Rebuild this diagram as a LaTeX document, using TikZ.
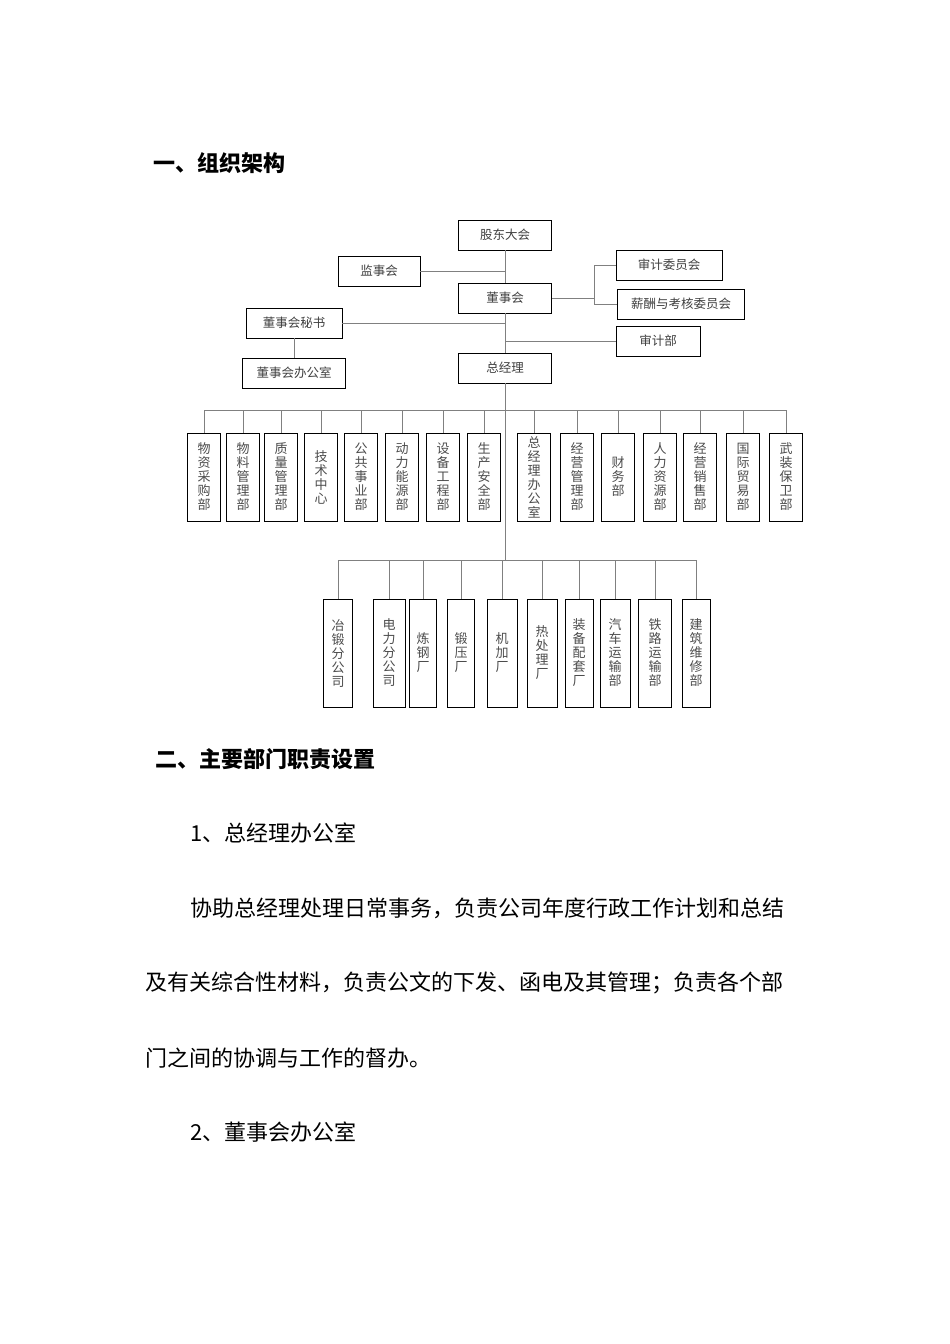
\documentclass[tikz,border=0pt]{standalone}
\usepackage{fontspec}
\newfontfamily\cjk{Noto Sans CJK SC}

\tikzstyle{box} = [draw, line width = 0.9pt, text = black!75, font = \cjk\fontsize{12.5}{14}\selectfont, minimum height = 30pt, inner sep = 0pt]
\tikzstyle{dept} = [draw, line width = 0.9pt, text = black!70, align = center, font = \cjk\fontsize{13}{14}\selectfont, minimum width = 33pt, minimum height = 88pt, inner sep = 0pt]
\tikzstyle{unit} = [dept, minimum width = 29pt, minimum height = 108pt]
\tikzstyle{link} = [black!50, line width = 0.8pt]
\tikzstyle{title} = [anchor = west, inner sep = 0pt, font = \cjk\bfseries\fontsize{22}{22}\selectfont]
\tikzstyle{body} = [anchor = west, inner sep = 0pt, font = \cjk\fontsize{22}{22}\selectfont]

\begin{document}
\begin{tikzpicture}[x = 1pt, y = -1pt]
		\useasboundingbox [fill = white] (0, 0) rectangle (950, 1344);

		\node [title] at (153, 163) (h1) {一、组织架构};

		\node [box, minimum width = 93pt] at (505, 235) (1) {股东大会};
		\node [box, minimum width = 82pt] at (379, 271) (2) {监事会};
		\node [box, minimum width = 93pt] at (505, 298) (3) {董事会};
		\node [box, minimum width = 106pt] at (669, 265) (4) {审计委员会};
		\node [box, minimum width = 127pt] at (681, 304) (5) {薪酬与考核委员会};
		\node [box, minimum width = 96pt] at (294, 323) (6) {董事会秘书};
		\node [box, minimum width = 84pt] at (658, 341) (7) {审计部};
		\node [box, minimum width = 103pt] at (294, 373) (8) {董事会办公室};
		\node [box, minimum width = 93pt] at (505, 368) (9) {总经理};

		\coordinate (c1) at (594, 298);
		\coordinate (m) at (505, 410);
		\coordinate (n) at (505, 560);

		\node [dept] at (204, 477) (11) {物\\资\\采\\购\\部};
		\node [dept] at (243, 477) (12) {物\\料\\管\\理\\部};
		\node [dept] at (281, 477) (13) {质\\量\\管\\理\\部};
		\node [dept] at (321, 477) (14) {技\\术\\中\\心};
		\node [dept] at (361, 477) (15) {公\\共\\事\\业\\部};
		\node [dept] at (402, 477) (16) {动\\力\\能\\源\\部};
		\node [dept] at (443, 477) (17) {设\\备\\工\\程\\部};
		\node [dept] at (484, 477) (18) {生\\产\\安\\全\\部};
		\node [dept] at (534, 477) (19) {总\\经\\理\\办\\公\\室};
		\node [dept] at (577, 477) (20) {经\\营\\管\\理\\部};
		\node [dept] at (618, 477) (21) {财\\务\\部};
		\node [dept] at (660, 477) (22) {人\\力\\资\\源\\部};
		\node [dept] at (700, 477) (23) {经\\营\\销\\售\\部};
		\node [dept] at (743, 477) (24) {国\\际\\贸\\易\\部};
		\node [dept] at (786, 477) (25) {武\\装\\保\\卫\\部};

		\node [unit] at (338, 653) (31) {冶\\锻\\分\\公\\司};
		\node [unit, minimum width = 32pt] at (389, 653) (32) {电\\力\\分\\公\\司};
		\node [unit, minimum width = 27pt] at (423, 653) (33) {炼\\钢\\厂};
		\node [unit, minimum width = 27pt] at (461, 653) (34) {锻\\压\\厂};
		\node [unit, minimum width = 30pt] at (502, 653) (35) {机\\加\\厂};
		\node [unit, minimum width = 30pt] at (542, 653) (36) {热\\处\\理\\厂};
		\node [unit, minimum width = 28pt] at (579, 653) (37) {装\\备\\配\\套\\厂};
		\node [unit, minimum width = 30pt] at (615, 653) (38) {汽\\车\\运\\输\\部};
		\node [unit, minimum width = 33pt] at (655, 653) (39) {铁\\路\\运\\输\\部};
		\node [unit, minimum width = 28pt] at (696, 653) (40) {建\\筑\\维\\修\\部};

		\draw [link] (1) -- (3);
		\draw [link] (3) -- (9);
		\draw [link] (9) -- (n);
		\draw [link] (2) -- (2 -| 1);
		\draw [link] (3) -- (c1);
		\draw [link] (4) -| (c1);
		\draw [link] (5) -| (c1);
		\draw [link] (6) -- (6 -| 1);
		\draw [link] (6) -- (8);
		\draw [link] (7) -- (7 -| 1);

		\draw [link] (11) |- (m);
		\draw [link] (12) |- (m);
		\draw [link] (13) |- (m);
		\draw [link] (14) |- (m);
		\draw [link] (15) |- (m);
		\draw [link] (16) |- (m);
		\draw [link] (17) |- (m);
		\draw [link] (18) |- (m);
		\draw [link] (19) |- (m);
		\draw [link] (20) |- (m);
		\draw [link] (21) |- (m);
		\draw [link] (22) |- (m);
		\draw [link] (23) |- (m);
		\draw [link] (24) |- (m);
		\draw [link] (25) |- (m);

		\draw [link] (31) |- (n);
		\draw [link] (32) |- (n);
		\draw [link] (33) |- (n);
		\draw [link] (34) |- (n);
		\draw [link] (35) |- (n);
		\draw [link] (36) |- (n);
		\draw [link] (37) |- (n);
		\draw [link] (38) |- (n);
		\draw [link] (39) |- (n);
		\draw [link] (40) |- (n);

		\node [title] at (155, 759) (h2) {二、主要部门职责设置};
		\node [body] at (190, 833) (p1) {1、总经理办公室};
		\node [body] at (190, 908) (p2) {协助总经理处理日常事务，负责公司年度行政工作计划和总结};
		\node [body] at (145, 983) (p3) {及有关综合性材料，负责公文的下发、函电及其管理；负责各个部};
		\node [body] at (145, 1058) (p4) {门之间的协调与工作的督办。};
		\node [body] at (190, 1132) (p5) {2、董事会办公室};
	\end{tikzpicture}
\end{document}
